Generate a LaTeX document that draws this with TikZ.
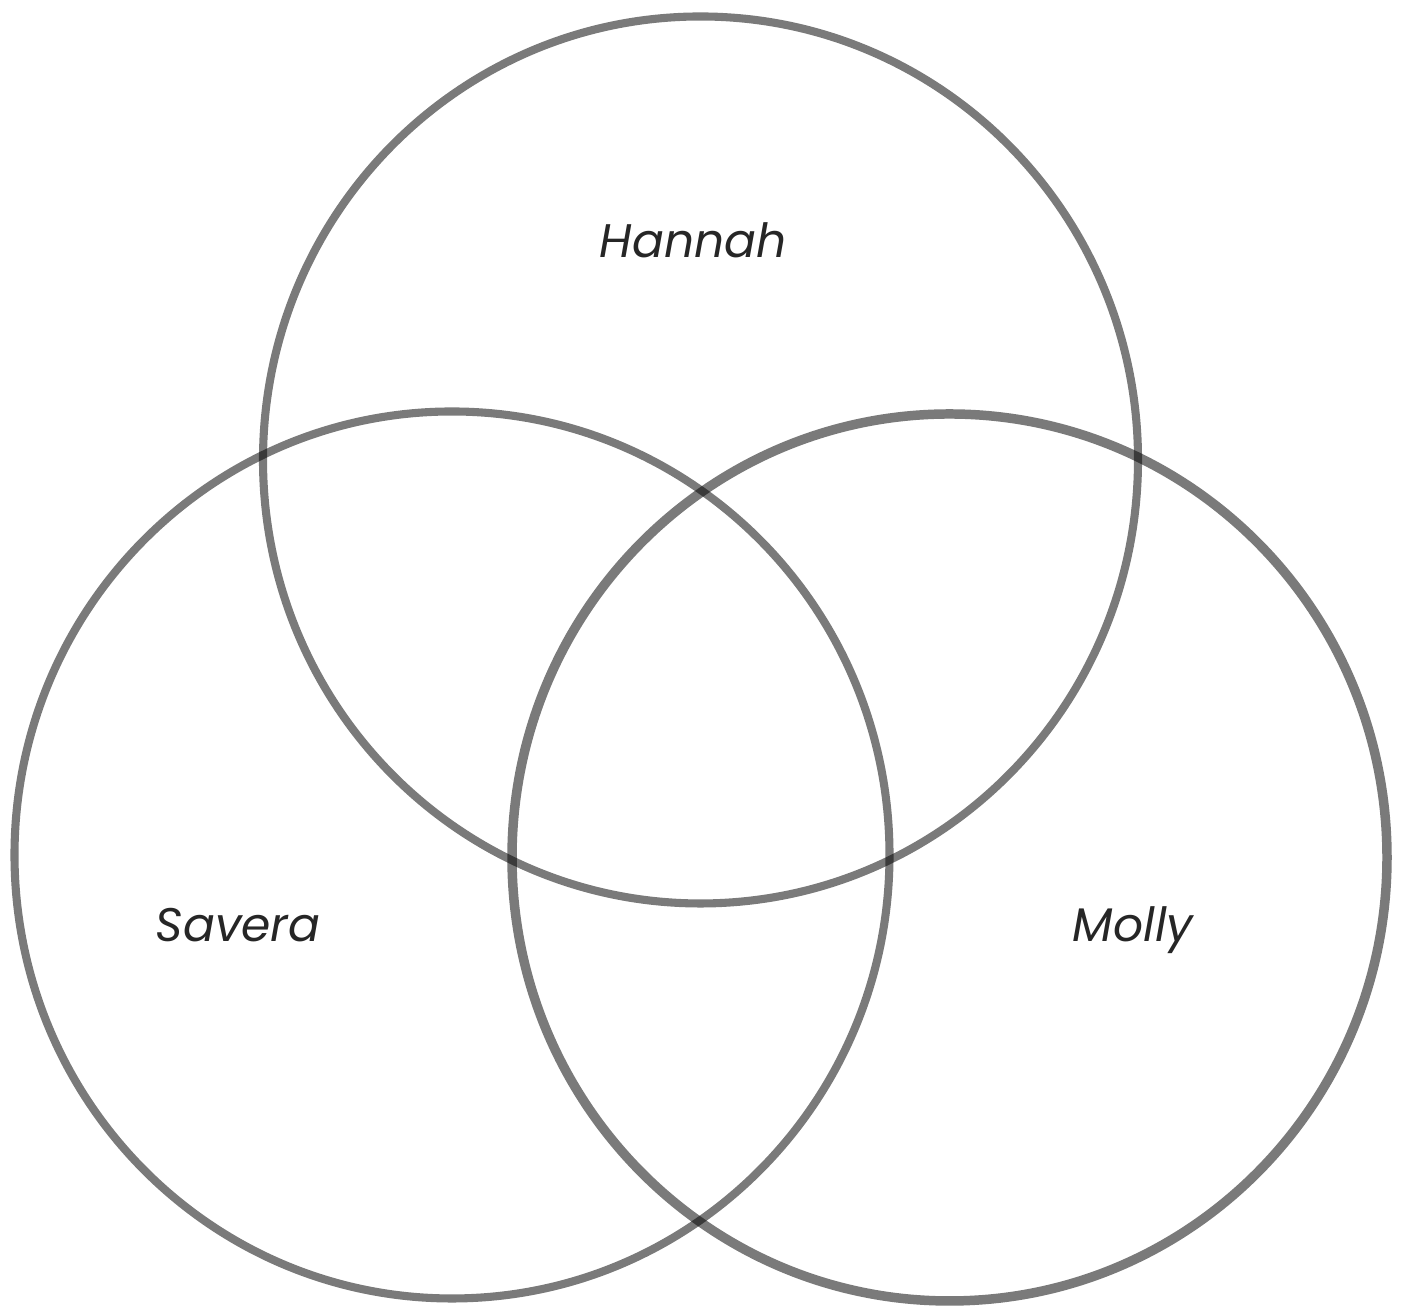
\documentclass[tikz,border=0pt]{standalone}
\usepackage{fontspec}
\setmainfont{Poppins}
\usetikzlibrary{shapes.geometric, positioning}
\tikzset{
    ring/.style={ellipse, draw=black, draw opacity=0.52, line width=2.3pt, minimum width=8.75cm, minimum height=8.87cm, inner sep=0pt},
    person/.style={font=\itshape\fontsize{13.4}{16}\selectfont, text=black!85}
}

\begin{document}
\begin{tikzpicture}
        \useasboundingbox (0,0) rectangle (14.03,13.09);
        \node [ring] (hannah) at (7.005,8.49) {};
        \node [ring] (savera) at (4.52,4.54) {};
        \node [ring, line width=2.7pt] (molly) at (9.495,4.515) {};
        \node [person] (hlabel) at (6.93,10.69) {Hannah};
        \node [person] (slabel) at (2.38,3.84) {Savera};
        \node [person] (mlabel) at (11.33,3.79) {Molly};
    \end{tikzpicture}
\end{document}
